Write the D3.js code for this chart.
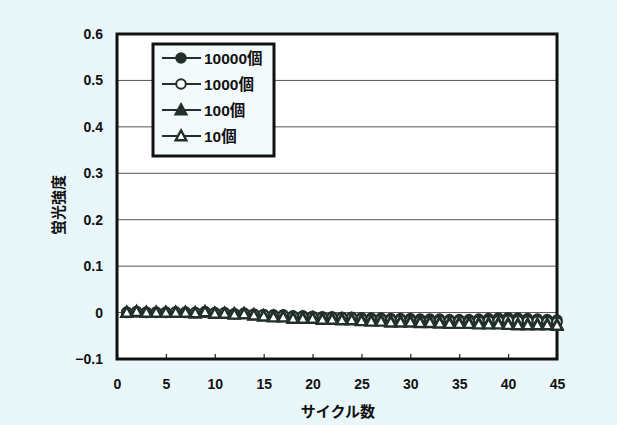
<!DOCTYPE html>
<html><head><meta charset="utf-8">
<script src="https://cdn.jsdelivr.net/npm/d3@7"></script>
<style>html,body{margin:0;padding:0;background:#e9f6fa;}svg{display:block;}</style>
</head><body>
<svg id="c" width="617" height="425"></svg>
<script>
const cycles = d3.range(1, 46);
const seriesNames = ["10000個", "1000個", "100個", "10個"];
const s10000 = [0.001,0.002,0.001,0.001,0.001,0.001,0.001,0.000,0.002,0.000,0.000,-0.002,-0.001,-0.003,-0.004,-0.005,-0.005,-0.007,-0.007,-0.008,-0.009,-0.009,-0.010,-0.010,-0.011,-0.012,-0.012,-0.013,-0.013,-0.013,-0.014,-0.014,-0.014,-0.015,-0.015,-0.015,-0.014,-0.013,-0.012,-0.011,-0.012,-0.013,-0.014,-0.015,-0.016];
const s1000 = [0.000,0.002,0.000,0.000,0.000,0.001,0.000,0.000,0.001,-0.001,-0.001,-0.003,-0.002,-0.004,-0.005,-0.007,-0.007,-0.009,-0.009,-0.010,-0.011,-0.011,-0.012,-0.012,-0.014,-0.015,-0.015,-0.016,-0.016,-0.017,-0.018,-0.018,-0.018,-0.019,-0.019,-0.020,-0.019,-0.018,-0.018,-0.017,-0.018,-0.019,-0.019,-0.020,-0.021];
const s100 = [0.000,0.001,0.000,0.000,0.000,0.000,0.000,-0.001,0.001,-0.002,-0.002,-0.003,-0.003,-0.005,-0.007,-0.008,-0.009,-0.011,-0.011,-0.012,-0.013,-0.013,-0.014,-0.014,-0.016,-0.017,-0.017,-0.019,-0.019,-0.019,-0.020,-0.020,-0.021,-0.022,-0.022,-0.022,-0.023,-0.023,-0.023,-0.024,-0.025,-0.025,-0.025,-0.025,-0.026];
const s10 = [0.000,0.002,0.000,0.000,0.000,0.000,0.000,-0.001,0.001,-0.002,-0.002,-0.004,-0.003,-0.006,-0.008,-0.010,-0.010,-0.013,-0.013,-0.013,-0.015,-0.015,-0.016,-0.016,-0.018,-0.019,-0.019,-0.021,-0.021,-0.021,-0.022,-0.022,-0.023,-0.024,-0.024,-0.024,-0.025,-0.025,-0.025,-0.026,-0.027,-0.027,-0.027,-0.027,-0.028];
const xTicks = [0,5,10,15,20,25,30,35,40,45];
const yTicks = [-0.1,0,0.1,0.2,0.3,0.4,0.5,0.6];
const yLabel = "蛍光強度";
const xLabel = "サイクル数";

const allSeries = [s10000, s1000, s100, s10];
const markerTypes = ["circleFilled","circleOpen","triFilled","triOpen"];
const dark = "#22302a";

const svg = d3.select("#c");
const L = 117, R = 557, T = 34, B = 359;
const x = d3.scaleLinear().domain([0,45]).range([L,R]);
const y = d3.scaleLinear().domain([-0.1,0.6]).range([B,T]);

svg.append("rect").attr("x",0).attr("y",0).attr("width",617).attr("height",425).attr("fill","#e9f6fa");
svg.append("rect").attr("x",L).attr("y",T).attr("width",R-L).attr("height",B-T).attr("fill","#ffffff");

// gridlines
svg.append("g").selectAll("line").data(yTicks.filter(v=>v>-0.1 && v<0.6)).join("line")
  .attr("x1",L).attr("x2",R).attr("y1",d=>y(d)).attr("y2",d=>y(d))
  .attr("stroke","#555").attr("stroke-width",1);

// axes
const fontNum = "'Liberation Sans', Arial, sans-serif";
const xAxis = d3.axisBottom(x).tickValues(xTicks).tickSize(-5).tickPadding(20).tickFormat(d3.format("d"));
const gx = svg.append("g").attr("transform",`translate(0,${B})`).call(xAxis);
gx.select(".domain").remove();
gx.selectAll("line").attr("stroke","#222").attr("stroke-width",1.2);
gx.selectAll("text").attr("font-family",fontNum).attr("font-size",14).attr("font-weight","bold").attr("fill","#111");

const yAxis = d3.axisLeft(y).tickValues(yTicks).tickSize(0).tickPadding(14).tickFormat(d=> d===0 ? "0" : d3.format(".1f")(d));
const gy = svg.append("g").attr("transform",`translate(${L},0)`).call(yAxis);
gy.select(".domain").remove();
gy.selectAll("text").attr("font-family",fontNum).attr("font-size",14).attr("font-weight","bold").attr("fill","#111");

// plot border
svg.append("rect").attr("x",L).attr("y",T).attr("width",R-L).attr("height",B-T)
  .attr("fill","none").attr("stroke","#111").attr("stroke-width",3);

// series
const line = d3.line().x((d,i)=>x(cycles[i])).y(d=>y(d));
function drawMarker(g, type, cx, cy) {
  if (type==="circleFilled" || type==="circleOpen") {
    g.append("circle").attr("cx",cx).attr("cy",cy).attr("r",4.8)
      .attr("fill", type==="circleFilled" ? dark : "#fff").attr("stroke",dark).attr("stroke-width",2);
  } else {
    const s = 5.6;
    const p = `M${cx},${cy-s} L${cx+s*0.95},${cy+s*0.75} L${cx-s*0.95},${cy+s*0.75} Z`;
    g.append("path").attr("d",p)
      .attr("fill", type==="triFilled" ? dark : "#fff").attr("stroke",dark).attr("stroke-width",2.4);
  }
}
allSeries.forEach((vals, k) => {
  const g = svg.append("g");
  g.append("path").datum(vals).attr("d",line).attr("fill","none").attr("stroke",dark).attr("stroke-width",2);
  vals.forEach((v,i)=> drawMarker(g, markerTypes[k], x(cycles[i]), y(v)));
});

// legend
const lg = svg.append("g");
lg.append("rect").attr("x",153).attr("y",44).attr("width",121).attr("height",112)
  .attr("fill","#f3fafc").attr("stroke","#111").attr("stroke-width",3);
seriesNames.forEach((name,k)=>{
  const ly = 58 + k*26;
  lg.append("line").attr("x1",162).attr("x2",201).attr("y1",ly).attr("y2",ly).attr("stroke",dark).attr("stroke-width",2);
  drawMarker(lg, markerTypes[k], 181, ly);
  lg.append("text").attr("x",204).attr("y",ly+6).text(name)
    .attr("font-family","'Liberation Sans','Noto Sans CJK JP',sans-serif").attr("font-size",15.5).attr("font-weight","bold").attr("fill","#111");
});

// axis titles
svg.append("text").attr("transform","translate(64,205) rotate(-90)").attr("text-anchor","middle")
  .attr("font-family","'Noto Sans CJK JP',sans-serif").attr("font-size",15).attr("font-weight","bold").attr("fill","#111").text(yLabel);
svg.append("text").attr("x",338).attr("y",417).attr("text-anchor","middle")
  .attr("font-family","'Noto Sans CJK JP',sans-serif").attr("font-size",15).attr("font-weight","bold").attr("fill","#111").text(xLabel);
</script>
</body></html>
